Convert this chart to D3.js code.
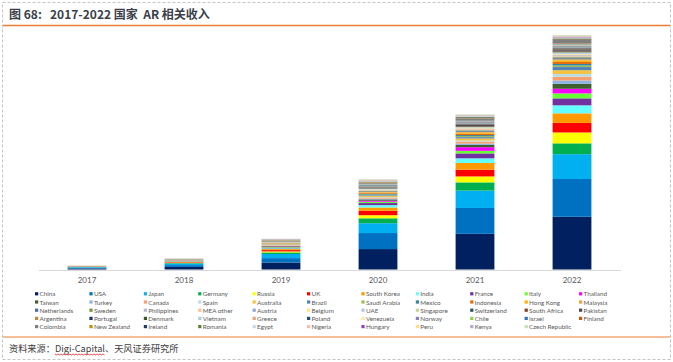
<!DOCTYPE html>
<html>
<head>
<meta charset="utf-8">
<script src="https://cdn.jsdelivr.net/npm/d3@7/dist/d3.min.js"></script>
<style>
  body { margin: 0; background: #fff; }
  text { font-family: Lato, "Noto Sans", sans-serif; }
  .cjk { font-family: "Noto Sans CJK SC", "Noto Sans", sans-serif; }
</style>
</head>
<body>
<div id="main"></div>
<script>
// AR revenue by country (USD bn)
const years = ["2017", "2018", "2019", "2020", "2021", "2022"];

const countries = [
  "China", "USA", "Japan", "Germany", "Russia", "UK", "South Korea", "India", "France", "Italy", "Thailand",
  "Taiwan", "Turkey", "Canada", "Spain", "Australia", "Brazil", "Saudi Arabia", "Mexico", "Indonesia", "Hong Kong", "Malaysia",
  "Netherlands", "Sweden", "Philippines", "MEA other", "Austria", "Belgium", "UAE", "Singapore", "Switzerland", "South Africa", "Pakistan",
  "Argentina", "Portugal", "Denmark", "Vietnam", "Greece", "Poland", "Venezuela", "Norway", "Chile", "Israel", "Finland",
  "Colombia", "New Zealand", "Ireland", "Romania", "Egypt", "Nigeria", "Hungary", "Peru", "Kenya", "Czech Republic"
];

const colors = [
  "#002060", "#0070C0", "#00B0F0", "#00B050", "#FFFF00", "#FF0000", "#FF9900", "#66FFFF", "#7030A0", "#66FF33", "#FF00FF",
  "#3F5F2F", "#8DB4E2", "#F7A070", "#B7DEE8", "#F5C242", "#4F81BD", "#9BBB59", "#31859C", "#E46C0A", "#FFB000", "#E8A33D",
  "#4A6FA5", "#77933C", "#B3B8D9", "#FAC090", "#8EA9DB", "#FFE38A", "#B4C6E7", "#C4D79B", "#215967", "#7F3F1F", "#4D4D4D",
  "#C0873F", "#1F2F6F", "#385723", "#A9CCE3", "#E6A27E", "#1F4E79", "#FFE699", "#8C7FC2", "#92D050", "#2E75B6", "#C55A11",
  "#7F7F7F", "#BF9000", "#203864", "#548235", "#C5D9F1", "#F4C2A8", "#8E44C8", "#FFE080", "#B4A7D6", "#C5E0B4"
];

const v2017 = [
  0.4, 0.3, 0.2, 0.07, 0.05, 0.07, 0.05, 0.04, 0.04, 0.03, 0.03,
  0.03, 0.01, 0.01, 0.01, 0.01, 0.01, 0.01, 0.01, 0.01, 0.01, 0.01,
  0.003, 0.003, 0.003, 0.003, 0.003, 0.003, 0.003, 0.003, 0.003, 0.003, 0.003,
  0.003, 0.003, 0.003, 0.003, 0.003, 0.003, 0.003, 0.003, 0.003, 0.003, 0.003,
  0.003, 0.003, 0.003, 0.003, 0.003, 0.003, 0.003, 0.003, 0.003, 0.003
];
const v2018 = [
  1.0, 0.7, 0.6, 0.2, 0.15, 0.2, 0.15, 0.1, 0.1, 0.08, 0.07,
  0.08, 0.03, 0.03, 0.03, 0.03, 0.03, 0.03, 0.03, 0.03, 0.03, 0.03,
  0.015, 0.015, 0.015, 0.015, 0.015, 0.015, 0.015, 0.015, 0.015, 0.015, 0.015,
  0.015, 0.015, 0.015, 0.015, 0.015, 0.015, 0.015, 0.015, 0.015, 0.015, 0.015,
  0.015, 0.015, 0.015, 0.015, 0.015, 0.015, 0.015, 0.015, 0.015, 0.015
];
const v2019 = [
  2.7, 1.7, 1.6, 0.6, 0.4, 0.5, 0.4, 0.3, 0.3, 0.2, 0.2,
  0.2, 0.1, 0.2, 0.1, 0.2, 0.1, 0.1, 0.1, 0.1, 0.1, 0.1,
  0.05, 0.05, 0.05, 0.05, 0.05, 0.05, 0.05, 0.05, 0.05, 0.05, 0.05,
  0.04, 0.04, 0.04, 0.04, 0.04, 0.04, 0.04, 0.04, 0.04, 0.04, 0.04,
  0.06, 0.06, 0.06, 0.06, 0.06, 0.06, 0.06, 0.06, 0.06, 0.06
];
const v2020 = [
  7.9, 6.2, 3.8, 1.9, 1.2, 1.7, 1.3, 0.9, 0.8, 0.5, 0.4,
  0.5, 0.3, 0.4, 0.2, 0.4, 0.3, 0.3, 0.3, 0.3, 0.2, 0.2,
  0.2, 0.2, 0.1, 0.2, 0.1, 0.2, 0.2, 0.1, 0.2, 0.1, 0.2,
  0.2, 0.1, 0.1, 0.2, 0.1, 0.2, 0.1, 0.1, 0.1, 0.1, 0.1,
  0.4, 0.2, 0.1, 0.1, 0.2, 0.2, 0.1, 0.1, 0.1, 0.2
];
const v2021 = [
  13.8, 10.0, 6.7, 3.2, 2.3, 2.6, 2.6, 1.8, 1.9, 1.0, 1.4,
  0.9, 0.5, 0.8, 0.4, 0.8, 0.5, 0.4, 0.4, 0.5, 0.4, 0.3,
  0.3, 0.3, 0.2, 0.3, 0.2, 0.2, 0.2, 0.2, 0.2, 0.2, 0.4,
  0.2, 0.2, 0.2, 0.2, 0.2, 0.2, 0.1, 0.2, 0.1, 0.2, 0.1,
  0.7, 0.2, 0.2, 0.2, 0.2, 0.2, 0.1, 0.1, 0.1, 0.2
];
const v2022 = [
  20.4, 14.6, 9.6, 4.2, 4.2, 3.7, 3.7, 3.1, 2.7, 1.9, 1.8,
  1.9, 1.3, 1.5, 1.0, 1.5, 1.2, 0.6, 0.6, 0.8, 0.6, 0.4,
  0.4, 0.4, 0.3, 0.4, 0.3, 0.3, 0.3, 0.3, 0.3, 0.3, 0.6,
  0.3, 0.2, 0.2, 0.2, 0.2, 0.2, 0.2, 0.2, 0.2, 0.2, 0.2,
  1.3, 0.2, 0.2, 0.2, 0.2, 0.2, 0.2, 0.2, 0.2, 0.3
];

const values = [v2017, v2018, v2019, v2020, v2021, v2022];

// table for d3.stack
const table = years.map((yr, j) => {
  const row = { year: yr };
  countries.forEach((c, i) => { row[c] = values[j][i]; });
  return row;
});

const W = 673, H = 362;

const svg = d3.select("#main")
  .append("svg")
    .attr("width", W)
    .attr("height", H);

// outer dashed frame
svg.append("rect")
  .attr("x", 2.5).attr("y", 2.5)
  .attr("width", W - 5).attr("height", H - 5)
  .attr("fill", "none")
  .attr("stroke", "#c4c4c4")
  .attr("stroke-dasharray", "3,2");

// title
svg.append("text")
  .attr("class", "cjk")
  .attr("x", 9).attr("y", 18.5)
  .attr("font-size", 12).attr("font-weight", "bold")
  .attr("fill", "#3a3f4a")
  .text("图 68:");
svg.append("text")
  .attr("class", "cjk")
  .attr("x", 50).attr("y", 18.5)
  .attr("font-size", 12).attr("font-weight", "bold")
  .attr("fill", "#3a3f4a")
  .attr("xml:space", "preserve")
  .text("2017-2022 国家  AR 相关收入");

// orange rules
svg.append("line")
  .attr("x1", 3).attr("x2", W - 3)
  .attr("y1", 25.5).attr("y2", 25.5)
  .attr("stroke", "#ED7D31").attr("stroke-width", 1.5);
svg.append("line")
  .attr("x1", 3).attr("x2", W - 3)
  .attr("y1", 337).attr("y2", 337)
  .attr("stroke", "#ED7D31").attr("stroke-width", 1.2);

// scales
const x = d3.scaleBand()
  .domain(years)
  .range([38.5, 620.5])
  .paddingInner(0.6)
  .paddingOuter(0.3);

const stack = d3.stack().keys(countries);
const series = stack(table);

const maxTotal = d3.max(table, d => d3.sum(countries, c => d[c]));
const y = d3.scaleLinear()
  .domain([0, maxTotal])
  .range([269.5, 35]);

const color = d3.scaleOrdinal().domain(countries).range(colors);

// bars
const g = svg.append("g");
g.selectAll("g.series")
  .data(series)
  .join("g")
    .attr("class", "series")
    .attr("fill", d => color(d.key))
  .selectAll("rect")
  .data(d => d)
  .join("rect")
    .attr("x", d => x(d.data.year))
    .attr("width", x.bandwidth())
    .attr("y", d => y(d[1]))
    .attr("height", d => Math.max(0, y(d[0]) - y(d[1])));

// x axis
const xAxis = d3.axisBottom(x).tickSize(0).tickPadding(7);
const ax = svg.append("g")
  .attr("transform", `translate(0, ${y(0) + 0.5})`)
  .call(xAxis);
ax.select(".domain").attr("stroke", "#d9d9d9");
ax.selectAll("text")
  .attr("font-family", "Lato, sans-serif")
  .attr("font-size", 8)
  .attr("fill", "#595959");

// legend
const legend = svg.append("g");
const items = legend.selectAll("g")
  .data(countries)
  .join("g")
    .attr("transform", (d, i) => `translate(${35 + (i % 11) * 54.4}, ${294 + Math.floor(i / 11) * 8.2})`);
items.append("rect")
  .attr("x", 0).attr("y", -1.8)
  .attr("width", 3.2).attr("height", 3.2)
  .attr("fill", d => color(d));
items.append("text")
  .attr("x", 4.5).attr("y", 2.3)
  .attr("font-size", 6.3)
  .attr("fill", "#595959")
  .text(d => d);

// source line
const fs = 9.2;
const src1 = svg.append("text")
  .attr("class", "cjk")
  .attr("x", 9).attr("y", 352)
  .attr("font-size", fs)
  .attr("fill", "#404040")
  .text("资料来源：");
const w1 = src1.node().getComputedTextLength();
const src2 = svg.append("text")
  .attr("class", "cjk")
  .attr("x", 9 + w1).attr("y", 352)
  .attr("font-size", fs)
  .attr("fill", "#404040")
  .text("Digi-Capital");
const w2 = src2.node().getComputedTextLength();
svg.append("text")
  .attr("class", "cjk")
  .attr("x", 9 + w1 + w2).attr("y", 352)
  .attr("font-size", fs)
  .attr("fill", "#404040")
  .text("、天风证券研究所");

// red wavy spell-check underline
const wave = [];
for (let px = 9 + w1; px <= 9 + w1 + w2; px += 1.5) {
  wave.push([px, 354 + ((Math.round((px - 9 - w1) / 1.5) % 2) ? 1 : 0)]);
}
svg.append("path")
  .attr("d", d3.line()(wave))
  .attr("fill", "none")
  .attr("stroke", "#e02020")
  .attr("stroke-width", 0.8);
</script>
</body>
</html>
